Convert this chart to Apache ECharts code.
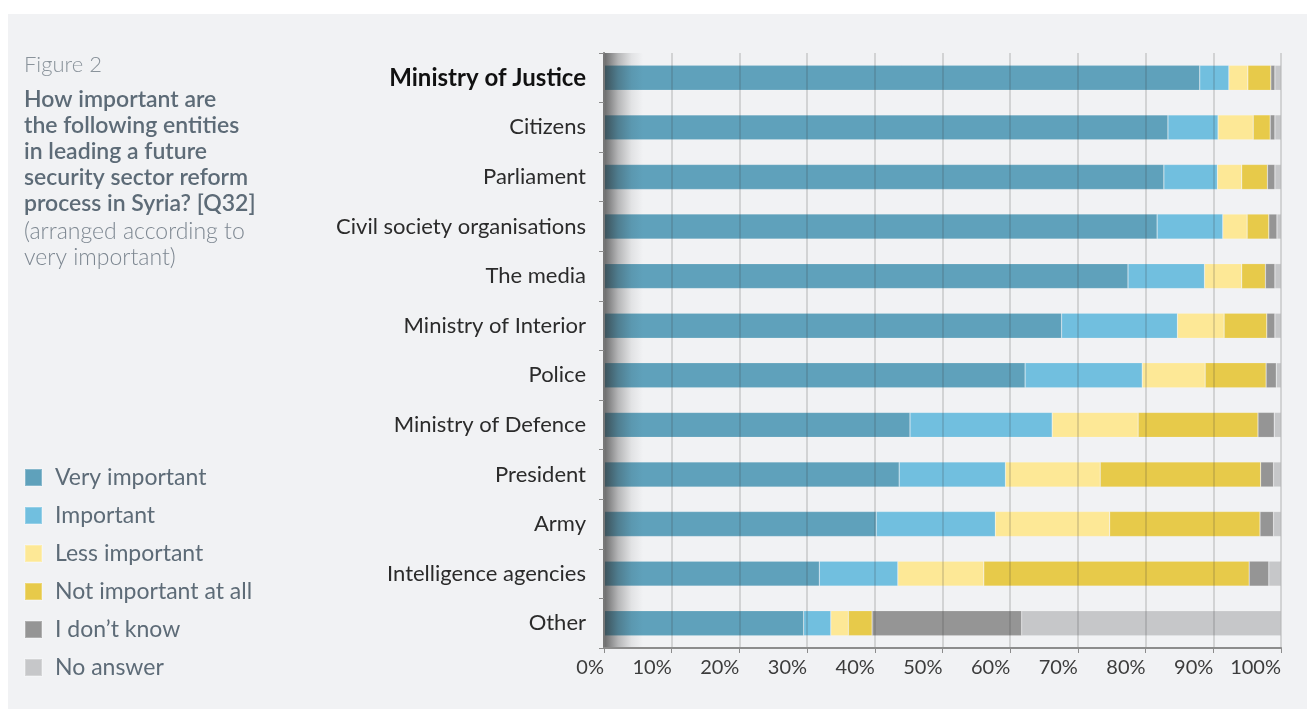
<!DOCTYPE html>
<html>
<head>
<meta charset="utf-8">
<script src="https://cdn.jsdelivr.net/npm/echarts@6/dist/echarts.min.js"></script>
<style>
html,body{margin:0;padding:0;background:#ffffff;}
#chart{width:1307px;height:709px;}
</style>
</head>
<body>
<div id="chart"></div>
<script>
const categories = ["Ministry of Justice","Citizens","Parliament","Civil society organisations","The media","Ministry of Interior","Police","Ministry of Defence","President","Army","Intelligence agencies","Other"];
const seriesNames = ["Very important","Important","Less important","Not important at all","I don\u2019t know","No answer"];
const veryImportant = [88.0,83.3,82.7,81.7,77.4,67.6,62.2,45.2,43.6,40.2,31.8,29.5];
const important     = [4.3,7.4,7.9,9.7,11.3,17.1,17.3,21.0,15.7,17.6,11.6,4.0];
const lessImportant = [2.8,5.2,3.6,3.6,5.5,6.9,9.3,12.7,14.0,16.9,12.7,2.6];
const notImportant  = [3.4,2.5,3.8,3.2,3.5,6.3,9.0,17.7,23.7,22.2,39.2,3.5];
const dontKnow      = [0.6,0.7,1.1,1.2,1.4,1.2,1.5,2.4,1.9,2.0,2.9,22.1];
const noAnswer      = [0.9,0.9,0.9,0.6,0.9,0.9,0.7,1.0,1.1,1.1,1.8,38.3];
const xTicks = [0,10,20,30,40,50,60,70,80,90,100];
const colors = ["#5fa1bb","#71bfdf","#fde896","#e7ca4a","#959595","#c6c7c9"];

const dataSets = [veryImportant, important, lessImportant, notImportant, dontKnow, noAnswer];
const FONT = "Lato, 'Open Sans', sans-serif";

const chart = echarts.init(document.getElementById('chart'));
const series = dataSets.map((d, i) => ({
  name: seriesNames[i],
  type: 'bar',
  stack: 'total',
  barWidth: 25,
  itemStyle: { color: colors[i], borderColor: 'rgba(255,255,255,0.25)', borderWidth: 0.6 },
  emphasis: { disabled: true },
  data: d
}));

const option = {
  animation: false,
  backgroundColor: '#ffffff',
  color: colors,
  graphic: [
    { type: 'rect', left: 8, top: 14, shape: { width: 1299, height: 695 }, style: { fill: '#f1f2f4' }, z: -10, silent: true },
    { type: 'text', left: 24, top: 52, style: { text: 'Figure 2', font: '300 22px ' + FONT, fill: '#8a939b', lineHeight: 26 } },
    { type: 'text', left: 24, top: 87, style: { text: 'How important are\nthe following entities\nin leading a future\nsecurity sector reform\nprocess in Syria? [Q32]', font: '600 23px ' + FONT, fill: '#5d6b77', lineHeight: 26 } },
    { type: 'text', left: 24, top: 219, style: { text: '(arranged according to\nvery important)', font: '300 23px ' + FONT, fill: '#7d8791', lineHeight: 26 } }
  ],
  legend: {
    orient: 'vertical',
    left: 24,
    top: 466,
    padding: 0,
    itemWidth: 17,
    itemHeight: 17,
    itemGap: 15,
    icon: 'rect',
    selectedMode: false,
    data: seriesNames,
    textStyle: { fontFamily: FONT, fontSize: 23, color: '#5d6b77', padding: [0,0,0,8] }
  },
  grid: { left: 604, right: 26, top: 53, bottom: 61, containLabel: false },
  xAxis: {
    type: 'value',
    min: 0, max: 100, interval: 10,
    z: 5,
    axisLine: { show: true, lineStyle: { color: '#8c8c8c', width: 2 } },
    axisTick: { show: true, length: 5, lineStyle: { color: '#8c8c8c' } },
    splitLine: { show: true, lineStyle: { color: 'rgba(60,60,60,0.22)', width: 1.5 } },
    axisLabel: { formatter: v => xTicks.includes(v) ? v + '%' : '', fontFamily: FONT, fontSize: 20, color: '#3c3c3c', margin: 10, align: 'right' }
  },
  yAxis: {
    type: 'category',
    inverse: true,
    data: categories,
    z: 5,
    axisLine: { show: true, lineStyle: { color: '#777777', width: 2 } },
    axisTick: { show: true, length: 5, lineStyle: { color: '#8c8c8c' } },
    axisLabel: {
      fontFamily: FONT, fontSize: 22, color: '#2b2b2b', margin: 18,
      formatter: (v, i) => i === 0 ? '{b|' + v + '}' : v,
      rich: { b: { fontFamily: FONT, fontSize: 24, fontWeight: 'bold', color: '#111111' } }
    }
  },
  series: series
};
chart.setOption(option);

// left-edge shading overlay derived from the grid position
const rect = chart.getModel().getComponent('grid', 0).coordinateSystem.getRect();
chart.setOption({
  graphic: [
    { type: 'rect', id: 'shade', silent: true, z: 50,
      shape: { x: rect.x + 1, y: rect.y, width: 38, height: rect.height - 1 },
      style: { fill: new echarts.graphic.LinearGradient(0, 0, 1, 0, [
        { offset: 0, color: 'rgba(44,44,44,0.66)' },
        { offset: 0.35, color: 'rgba(44,44,44,0.3)' },
        { offset: 0.7, color: 'rgba(44,44,44,0.08)' },
        { offset: 1, color: 'rgba(44,44,44,0)' }
      ]) } }
  ]
});
</script>
</body>
</html>
